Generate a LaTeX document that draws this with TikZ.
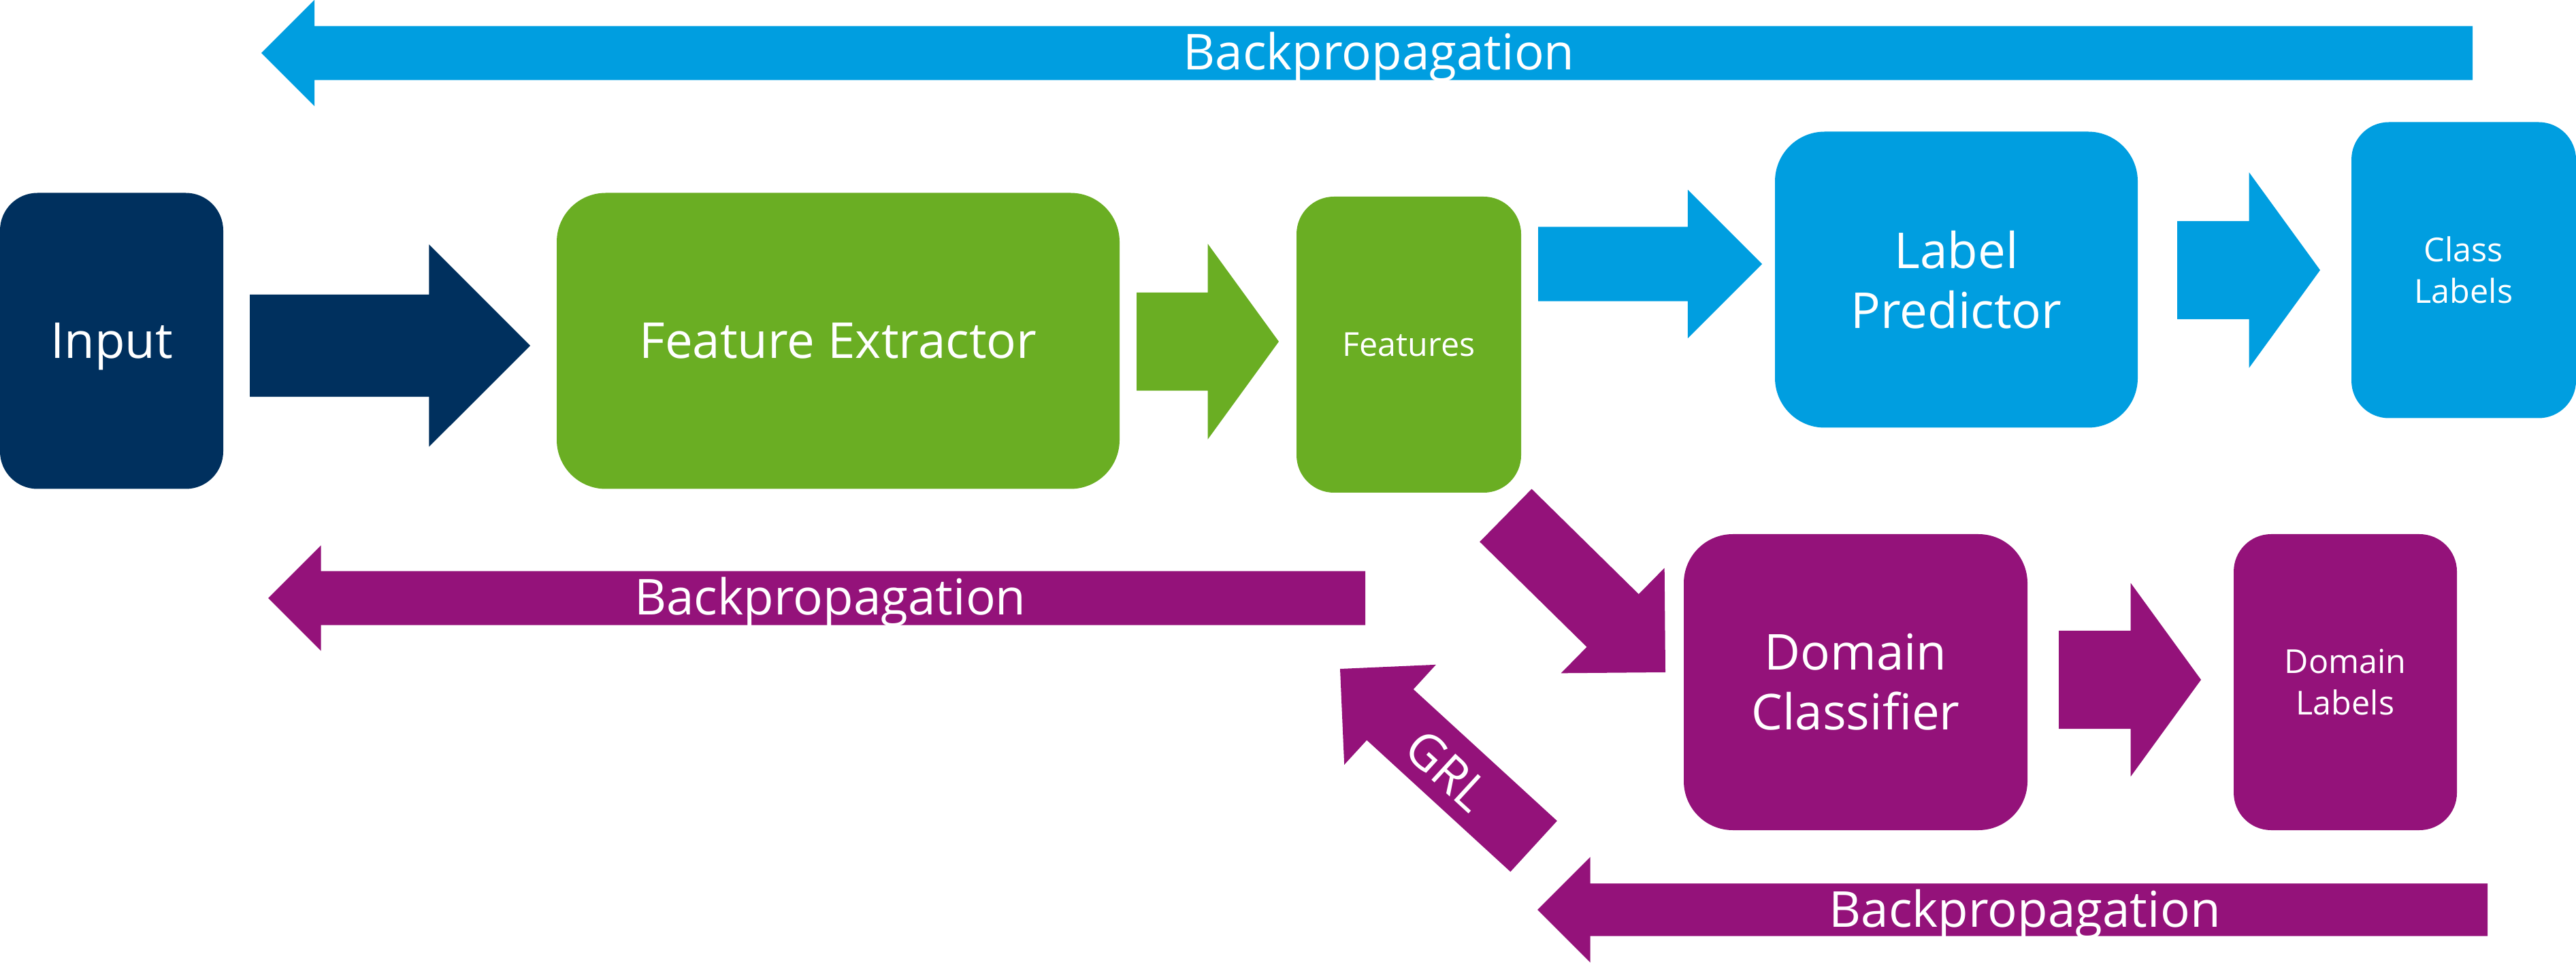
\documentclass[tikz,border=0pt]{standalone}
\usepackage{fontspec}
\setmainfont{Open Sans}
\usetikzlibrary{shapes.arrows}
\definecolor{inputblue}{HTML}{00305E}
\definecolor{featgreen}{HTML}{6AAE23}
\definecolor{labelblue}{HTML}{009EE0}
\definecolor{domainpurple}{HTML}{94127A}
\newcommand{\boxfont}{\fontsize{20.7}{25}\selectfont}
\newcommand{\tagfont}{\fontsize{13.8}{17.3}\selectfont}

\begin{document}
\begin{tikzpicture}[every node/.style={text=white, inner sep=0pt, outer sep=0pt},
	block/.style={rectangle, fill=#1, align=center, font=\boxfont, minimum height=4.35cm},
	blockarrow/.style 2 args={single arrow, fill=#1, inner ysep=#2, anchor=tip},
	bptext/.style={anchor=base, font=\boxfont}]
	\useasboundingbox (0,0) rectangle (37.85,-14.27);

	\node[block=inputblue, minimum width=3.28cm, rounded corners=0.55cm, text depth=0pt] (input) at (1.64,-5.01) {Input};
	\node[block=featgreen, minimum width=8.27cm, rounded corners=0.72cm] (extractor) at (12.315,-5.01) {Feature Extractor};
	\node[block=featgreen, minimum width=3.30cm, rounded corners=0.55cm, font=\tagfont] (features) at (20.70,-5.065) {Features};
	\node[block=labelblue, minimum width=5.33cm, rounded corners=0.73cm] (predictor) at (28.745,-4.11) {Label\\Predictor};
	\node[block=labelblue, minimum width=3.30cm, rounded corners=0.55cm, font=\tagfont] (classlabels) at (36.20,-3.97) {Class\\Labels};
	\node[block=domainpurple, minimum width=5.05cm, rounded corners=0.72cm] (classifier) at (27.265,-10.025) {Domain\\Classifier};
	\node[block=domainpurple, minimum width=3.28cm, rounded corners=0.55cm, font=\tagfont] (domainlabels) at (34.46,-10.025) {Domain\\Labels};

	\node[blockarrow={inputblue}{0.745cm}, minimum height=4.12cm, minimum width=2.96cm, single arrow head extend=0.735cm] (a1) at (7.79,-5.08) {};
	\node[blockarrow={featgreen}{0.715cm}, minimum height=2.09cm, minimum width=2.86cm, single arrow head extend=0.715cm, single arrow tip angle=108] (a2) at (18.79,-5.02) {};
	\node[blockarrow={labelblue}{0.54cm}, minimum height=3.29cm, minimum width=2.17cm, single arrow head extend=0.545cm] (a3) at (25.89,-3.88) {};
	\node[blockarrow={labelblue}{0.715cm}, minimum height=2.10cm, minimum width=2.86cm, single arrow head extend=0.715cm, single arrow tip angle=108] (a4) at (34.09,-3.97) {};
	\node[blockarrow={domainpurple}{0.5375cm}, rotate=-44.5, minimum height=3.29cm, minimum width=2.16cm, single arrow head extend=0.54cm] (a5) at (24.47,-9.88) {};
	\node[blockarrow={domainpurple}{0.715cm}, minimum height=2.09cm, minimum width=2.83cm, single arrow head extend=0.70cm, single arrow tip angle=108] (a6) at (32.34,-9.99) {};
	\node[blockarrow={domainpurple}{0.50cm}, rotate=137.5, minimum height=3.86cm, minimum width=1.98cm, single arrow head extend=0.49cm] (grl) at (19.69,-9.83) {};

	\node[blockarrow={labelblue}{0.39cm}, rotate=180, minimum height=32.49cm, minimum width=1.55cm, single arrow head extend=0.385cm] (bptop) at (3.84,-0.78) {};
	\node[blockarrow={domainpurple}{0.39cm}, rotate=180, minimum height=16.12cm, minimum width=1.54cm, single arrow head extend=0.38cm] (bpmid) at (3.94,-8.79) {};
	\node[blockarrow={domainpurple}{0.38cm}, rotate=180, minimum height=13.96cm, minimum width=1.54cm, single arrow head extend=0.39cm] (bpbot) at (22.59,-13.37) {};

	\node[bptext] (bptoptext) at (20.26,-1.03) {Backpropagation};
	\node[bptext] (bpmidtext) at (12.20,-9.04) {Backpropagation};
	\node[bptext] (bpbottext) at (29.75,-13.62) {Backpropagation};
	\node[font=\boxfont, rotate=-42.5] (grltext) at (21.27,-11.32) {GRL};
\end{tikzpicture}
\end{document}
